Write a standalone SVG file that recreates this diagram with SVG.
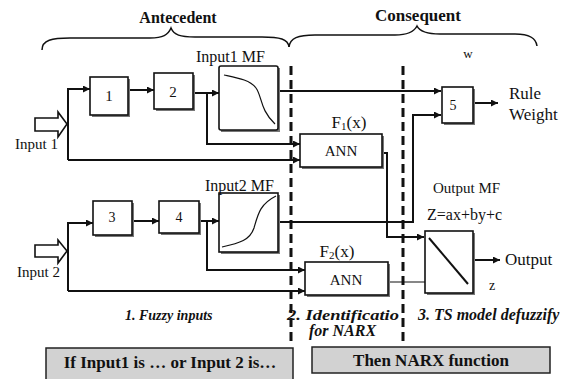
<svg xmlns="http://www.w3.org/2000/svg" width="578" height="379" viewBox="0 0 578 379" font-family="'Liberation Serif', 'Times New Roman', serif">
<defs>
<marker id="ah" viewBox="0 0 10 10" refX="10" refY="5" markerWidth="9" markerHeight="7" markerUnits="userSpaceOnUse" orient="auto">
<path d="M0,0 L10,5 L0,10 Z" fill="#111"/>
</marker>
</defs>
<style>
text{font-family:"Liberation Serif","Times New Roman",serif;fill:#111}
.b{font-weight:bold}
.i{font-style:italic;font-weight:bold}
.box{fill:#fff;stroke:#111;stroke-width:1.6}
.sh{fill:#777}
.c{fill:none;stroke:#111;stroke-width:2}
.ca{fill:none;stroke:#111;stroke-width:2;marker-end:url(#ah)}
.thin{fill:none;stroke:#111;stroke-width:1.2}
.dash{stroke:#111;stroke-width:3;stroke-dasharray:9,5;fill:none}
.brace{fill:none;stroke:#111;stroke-width:1.5}
.gray{fill:#d2d2d2;stroke:#222;stroke-width:1.5}
.hollow{fill:#fff;stroke:#111;stroke-width:1.6}
</style>
<rect width="578" height="379" fill="#fff"/>

<!-- braces -->
<g id="braces">
<path class="brace" d="M42,50 C42,40 52,38 70,38 L150,38 C163,38 168,35 171,28 C174,35 180,37 195,37 L262,37 C280,37 288,39 289,47"/>
<path class="brace" d="M289,47 C290,38 298,35 315,35 L395,35 C408,35 414,32 417,26 C420,32 427,34 440,34 L515,34 C530,34 536,38 537,46"/>
<text class="b" x="178" y="23" text-anchor="middle" font-size="16">Antecedent</text>
<text class="b" x="418" y="21" text-anchor="middle" font-size="17">Consequent</text>
</g>

<!-- dashed separators -->
<g id="separators">
<line class="dash" x1="291" y1="66" x2="291" y2="342"/>
<line class="dash" x1="403" y1="66" x2="403" y2="342"/>
</g>

<!-- connectors -->
<g id="connectors">
<path class="ca" d="M68,160 V89 H90"/>
<path class="ca" d="M128,90 H154"/>
<path class="ca" d="M193,93 H219"/>
<path class="ca" d="M278,91 H441"/>
<path class="ca" d="M207,93 V144 H300"/>
<path class="ca" d="M68,160 H300"/>
<path class="ca" d="M382,153 H387 V237 H424"/>
<path class="ca" d="M278,222 H413 V115 H441"/>
<path class="ca" d="M473,103 H498"/>
<path class="ca" d="M68,291 V223 H93"/>
<path class="ca" d="M132,221 H159"/>
<path class="ca" d="M199,221 H219"/>
<path class="ca" d="M207,221 V270 H305"/>
<path class="ca" d="M68,291 H305"/>
<path class="thin" d="M388,282 H425"/>
<path class="ca" d="M473,260 H500"/>
</g>

<!-- inputs -->
<g id="input1">
<path class="hollow" d="M35,118 H58 V112 L67,124 L58,137 V131 H35 Z"/>
<text x="15" y="149" font-size="15">Input 1</text>
</g>
<g id="input2">
<path class="hollow" d="M35,245 H58 V240 L67,251 L58,263 V257 H35 Z"/>
<text x="17" y="277" font-size="15">Input 2</text>
</g>

<!-- nodes -->
<g id="box1">
<rect class="sh" x="92" y="79" width="38" height="38"/>
<rect class="box" x="90" y="77" width="38" height="38"/>
<text x="109" y="101" text-anchor="middle" font-size="15">1</text>
</g>
<g id="box2">
<rect class="sh" x="156" y="75" width="39" height="36"/>
<rect class="box" x="154" y="73" width="39" height="36"/>
<text x="173" y="97" text-anchor="middle" font-size="15">2</text>
</g>
<g id="mf1">
<rect class="sh" x="221" y="68" width="59" height="64"/>
<rect class="box" x="219" y="66" width="59" height="64" rx="2"/>
<path class="thin" d="M224,75 C238,78 250,80 256,88 C262,96 260,110 275,124"/>
<text x="196" y="62" font-size="16">Input1  MF</text>
</g>
<g id="box3">
<rect class="sh" x="95" y="203" width="39" height="34"/>
<rect class="box" x="93" y="201" width="39" height="34"/>
<text x="112" y="222" text-anchor="middle" font-size="14">3</text>
</g>
<g id="box4">
<rect class="sh" x="161" y="203" width="40" height="32"/>
<rect class="box" x="159" y="201" width="40" height="32"/>
<text x="179" y="222" text-anchor="middle" font-size="14">4</text>
</g>
<g id="mf2">
<rect class="sh" x="221" y="195" width="59" height="59"/>
<rect class="box" x="219" y="193" width="59" height="59"/>
<path class="thin" d="M222,247 C240,243 250,240 254,228 C258,214 260,204 276,196"/>
<text x="205" y="191" font-size="16">Input2 MF</text>
</g>
<g id="ann1">
<rect class="sh" x="302" y="136" width="82" height="33"/>
<rect class="box" x="300" y="134" width="82" height="33"/>
<text x="341" y="156" text-anchor="middle" font-size="15">ANN</text>
<text x="349" y="128" text-anchor="middle" font-size="17">F<tspan font-size="11" dy="2">1</tspan><tspan dy="-2">(x)</tspan></text>
</g>
<g id="ann2">
<rect class="sh" x="307" y="264" width="83" height="33"/>
<rect class="box" x="305" y="262" width="83" height="33"/>
<text x="346" y="285" text-anchor="middle" font-size="15">ANN</text>
<text x="337" y="257" text-anchor="middle" font-size="17">F<tspan font-size="11" dy="2">2</tspan><tspan dy="-2">(x)</tspan></text>
</g>
<g id="box5">
<rect class="sh" x="444" y="89" width="31" height="36"/>
<rect class="box" x="442" y="87" width="31" height="36"/>
<text x="453" y="110" text-anchor="middle" font-size="14">5</text>
<text x="468" y="58" text-anchor="middle" font-size="13">w</text>
<text x="509" y="99" font-size="17">Rule</text>
<text x="509" y="120" font-size="17">Weight</text>
</g>
<g id="outmf">
<rect class="sh" x="427" y="233" width="48" height="62"/>
<rect class="box" x="425" y="231" width="48" height="62"/>
<line class="c" x1="429" y1="238" x2="468" y2="284"/>
<text x="433" y="193" font-size="15">Output MF</text>
<text x="427" y="220" font-size="16">Z=ax+by+c</text>
<text x="505" y="265" font-size="17">Output</text>
<text x="489" y="290" font-size="14">z</text>
</g>

<!-- section labels -->
<g id="labels">
<text class="i" x="125" y="320" font-size="14">1.  Fuzzy inputs</text>
<text class="i" x="287" y="320" font-size="15" textLength="112" lengthAdjust="spacingAndGlyphs">2.  Identificatio</text>
<text class="i" x="309" y="336" font-size="16">for NARX</text>
<text class="i" x="418" y="320" font-size="16">3.  TS model defuzzify</text>
</g>

<g id="if-box">
<rect class="gray" x="46" y="348" width="247" height="33"/>
<text class="b" x="170" y="368" text-anchor="middle" font-size="17">If Input1 is … or Input 2 is…</text>
</g>
<g id="then-box">
<rect class="gray" x="312" y="347" width="238" height="26"/>
<text class="b" x="431" y="366" text-anchor="middle" font-size="17">Then   NARX function</text>
</g>
</svg>
